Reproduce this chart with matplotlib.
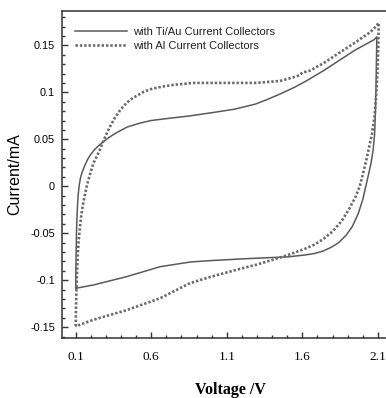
import matplotlib
matplotlib.use("Agg")
import matplotlib.pyplot as plt
from matplotlib.ticker import MultipleLocator, FixedLocator

# Ti/Au current collectors (solid): forward then reverse sweep
tiau_v = [0.10, 0.101, 0.103, 0.105, 0.108, 0.112, 0.117, 0.124, 0.133, 0.145, 0.16, 0.18,
          0.20, 0.225, 0.25, 0.28, 0.32, 0.37, 0.44, 0.52, 0.60, 0.70, 0.86, 1.03, 1.15,
          1.29, 1.37, 1.45, 1.55, 1.625, 1.74, 1.84, 1.95, 2.03, 2.075, 2.093,
          2.091, 2.088, 2.084, 2.078, 2.068, 2.055, 2.04, 2.02, 2.0, 1.97, 1.93, 1.89, 1.84,
          1.79, 1.735, 1.68, 1.62, 1.51, 1.23, 1.0, 0.86, 0.66, 0.44, 0.217, 0.10]
tiau_i = [-0.108, -0.09, -0.07, -0.05, -0.035, -0.02, -0.008, 0.002, 0.010, 0.016, 0.022,
          0.029, 0.034, 0.039, 0.043, 0.047, 0.052, 0.057, 0.063, 0.067, 0.070, 0.072, 0.075,
          0.079, 0.082, 0.0875, 0.0925, 0.098, 0.1055, 0.112, 0.123, 0.1335, 0.145, 0.152,
          0.156, 0.159,
          0.14, 0.11, 0.08, 0.055, 0.038, 0.025, 0.014, 0.0, -0.014, -0.029, -0.043, -0.052,
          -0.060, -0.065, -0.069, -0.0715, -0.073, -0.075, -0.077, -0.079, -0.0805, -0.0855,
          -0.096, -0.105, -0.1085]

# Al current collectors (dotted)
al_v = [0.10, 0.102, 0.105, 0.109, 0.114, 0.12, 0.13, 0.142, 0.157, 0.173, 0.195, 0.217,
        0.24, 0.26, 0.285, 0.31, 0.335, 0.36, 0.39, 0.42, 0.46, 0.50, 0.55, 0.60, 0.67, 0.75,
        0.88, 1.10, 1.29, 1.45, 1.52, 1.58, 1.60, 1.625, 1.65, 1.74, 1.84, 1.95, 2.05, 2.09,
        2.105,
        2.103, 2.098, 2.09, 2.078, 2.06, 2.04, 2.015, 1.98, 1.95, 1.91, 1.86, 1.80, 1.74,
        1.68, 1.625, 1.55, 1.47, 1.29, 1.23, 1.0, 0.857, 0.66, 0.44, 0.217, 0.10]
al_i = [-0.149, -0.13, -0.11, -0.09, -0.072, -0.057, -0.04, -0.025, -0.012, 0.0, 0.013,
        0.0245, 0.032, 0.039, 0.049, 0.058, 0.066, 0.073, 0.080, 0.086, 0.092, 0.096, 0.1005,
        0.1035, 0.106, 0.108, 0.110, 0.110, 0.110, 0.112, 0.115, 0.118, 0.121, 0.122, 0.123,
        0.131, 0.1415, 0.153, 0.164, 0.1705, 0.174,
        0.15, 0.125, 0.10, 0.075, 0.055, 0.04, 0.022, 0.0, -0.012, -0.024, -0.037, -0.048,
        -0.056, -0.062, -0.066, -0.0705, -0.075, -0.0837, -0.086, -0.096, -0.103, -0.119,
        -0.1316, -0.142, -0.149]

labels = ["with Ti/Au Current Collectors", "with Al Current Collectors"]
x_ticks = [0.1, 0.6, 1.1, 1.6, 2.1]
x_ticklabels = ["0.1", "0.6", "1.1", "1.6", "2.1"]
y_ticks = [-0.15, -0.1, -0.05, 0, 0.05, 0.1, 0.15]
y_ticklabels = ["-0.15", "-0.1", "-0.05", "0", "0.05", "0.1", "0.15"]

fig = plt.figure(figsize=(3.86, 3.98), dpi=100)
ax = fig.add_axes([62 / 386, 60 / 398, 331 / 386, 327 / 398])

ax.plot(tiau_v, tiau_i, color="#5a5a5a", lw=1.1, label=labels[0])
ax.plot(al_v, al_i, color="#6a6a6a", lw=1.9, linestyle=(0, (0.9, 0.75)),
        dash_capstyle="butt", label=labels[1])

ax.set_xlim(0.0093, 2.2)
ax.set_ylim(-0.1614, 0.1865)

ax.xaxis.set_major_locator(FixedLocator(x_ticks))
ax.set_xticklabels(x_ticklabels, family="Liberation Serif", fontsize=9.5)
ax.xaxis.set_minor_locator(MultipleLocator(0.1))
ax.yaxis.set_major_locator(FixedLocator(y_ticks))
ax.set_yticklabels(y_ticklabels, family="Liberation Sans", fontsize=7.8)
ax.yaxis.set_minor_locator(MultipleLocator(0.01))

ax.tick_params(which="both", direction="in", top=False, right=False, color="#333333",
               width=1.0)
ax.tick_params(which="major", length=4.5)
ax.tick_params(which="minor", length=2.4)
ax.tick_params(axis="x", which="major", pad=9)
ax.tick_params(axis="y", which="major", pad=5)

for s in ax.spines.values():
    s.set_color("#333333")
    s.set_linewidth(1.1)

ax.set_xlabel("Voltage /V", family="Liberation Serif", fontweight="bold", fontsize=11.5)
ax.xaxis.set_label_coords(0.51, -0.135)
ax.set_ylabel("Current/mA", family="Liberation Sans", fontsize=11.5)
ax.yaxis.set_label_coords(-0.12, 0.5)

leg = ax.legend(loc="upper left", bbox_to_anchor=(0.039, 0.95), frameon=False,
                prop={"family": "Liberation Sans", "size": 8}, handlelength=4.7,
                handletextpad=0.5, labelspacing=0.35, borderpad=0, borderaxespad=0)
for t in leg.get_texts():
    t.set_color("#222222")

fig.savefig("out.png", dpi=100)
